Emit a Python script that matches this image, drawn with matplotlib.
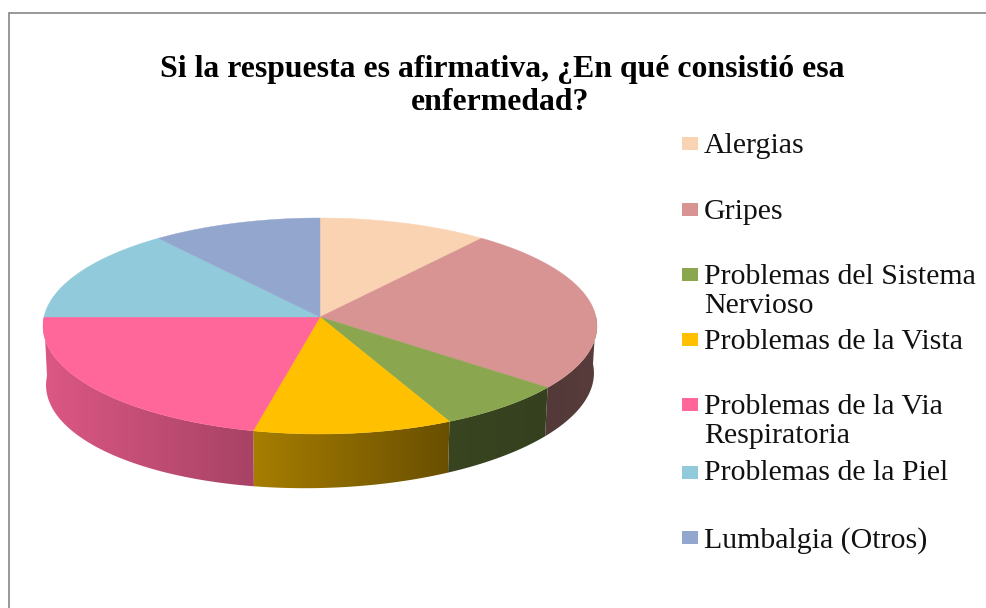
import numpy as np
import matplotlib
matplotlib.use("Agg")
import matplotlib.pyplot as plt
from matplotlib.patches import Polygon, Rectangle

TITLE_LINES = ["Si la respuesta es afirmativa, ¿En qué consistió esa", "enfermedad?"]
categories = ["Alergias", "Gripes", "Problemas del Sistema\nNervioso", "Problemas de la Vista",
              "Problemas de la Via\nRespiratoria", "Problemas de la Piel", "Lumbalgia (Otros)"]
values = [3, 7, 2, 3, 6, 4, 3]
colors = ["#FAD3B3", "#D89493", "#8AA64F", "#FFC000", "#FF6699", "#90CADB", "#93A7CE"]

W, H = 986, 608
fig = plt.figure(figsize=(W / 100, H / 100), dpi=100, facecolor="white")
ax = fig.add_axes([0, 0, 1, 1])

# perspective projection of the pie disc
CX, CY, A, B, K = 320, 317, 276, 107.25, 0.0833
CX2, CY2, A2, B2, SKEW = 320, 370, 273, 108.2, 6


def top_rim(t):
    u, v = np.sin(t), np.cos(t)
    w = 1 + K * v
    return CX + A * u / w, CY - B * v / w


def bottom_rim(t):
    u, v = np.sin(t), np.cos(t)
    w = 1 + K * v
    return CX2 + A2 * u / w, CY2 - B2 * v / w - SKEW * u / w


def shade(x):
    return np.interp(x, [45, 250, 450, 551, 600], [0.86, 0.66, 0.41, 0.385, 0.41])


edges = np.concatenate([[0], np.cumsum(values)]) / np.sum(values) * 2 * np.pi
WALL_START, WALL_END = np.radians(90), np.radians(270)

# side wall, one gradient image per slice clipped to the wall outline
for i, col in enumerate(colors):
    lo = max(edges[i], WALL_START)
    hi = min(edges[i + 1], WALL_END)
    if hi <= lo:
        continue
    ts = np.linspace(lo, hi, 150)
    xt, yt = top_rim(ts)
    xb, yb = bottom_rim(ts)
    outline = list(zip(xt, yt)) + list(zip(xb[::-1], yb[::-1]))
    base = np.array(matplotlib.colors.to_rgb(col))
    x0, x1 = min(xt.min(), xb.min()) - 2, max(xt.max(), xb.max()) + 2
    y0, y1 = min(yt.min(), yb.min()) - 2, max(yt.max(), yb.max()) + 2
    xs = np.linspace(x0, x1, 256)
    img = (base[None, None, :] * shade(xs)[None, :, None]).clip(0, 1)
    im = ax.imshow(img, extent=(x0, x1, y1, y0), aspect="auto", interpolation="bilinear", zorder=2)
    im.set_clip_path(Polygon(outline, closed=True, transform=ax.transData))

ax.set_xlim(0, W)
ax.set_ylim(H, 0)
ax.axis("off")

# top face
for i, col in enumerate(colors):
    ts = np.linspace(edges[i], edges[i + 1], 120)
    xs, ys = top_rim(ts)
    pts = [(CX, CY)] + list(zip(xs, ys))
    ax.add_patch(Polygon(pts, closed=True, facecolor=col, edgecolor=col, linewidth=0.3, zorder=3))

# frame
ax.plot([8.5, 8.5, W], [H, 12.5, 12.5], color="#868686", lw=1.2, zorder=1, solid_joinstyle="miter")

# title
serif = "Liberation Serif"
ax.text(502, 77.5, TITLE_LINES[0], ha="center", va="baseline", family=serif, weight="bold", fontsize=22.9)
ax.text(500, 110, TITLE_LINES[1], ha="center", va="baseline", family=serif, weight="bold", fontsize=22.9)

# legend
baselines = [153, 219, 284, 349, 414, 480, 548]
swatch_tops = [137, 203, 268, 333, 398, 466, 531]
for lab, col, yb, st in zip(categories, colors, baselines, swatch_tops):
    ax.add_patch(Rectangle((682, st), 16, 13, facecolor=col, edgecolor="none", zorder=3))
    for j, line in enumerate(lab.split("\n")):
        ax.text(704, yb + j * 29, line, ha="left", va="baseline", family=serif,
                fontsize=21.5, color="#111111")

fig.savefig("out.png", dpi=100, facecolor="white")
